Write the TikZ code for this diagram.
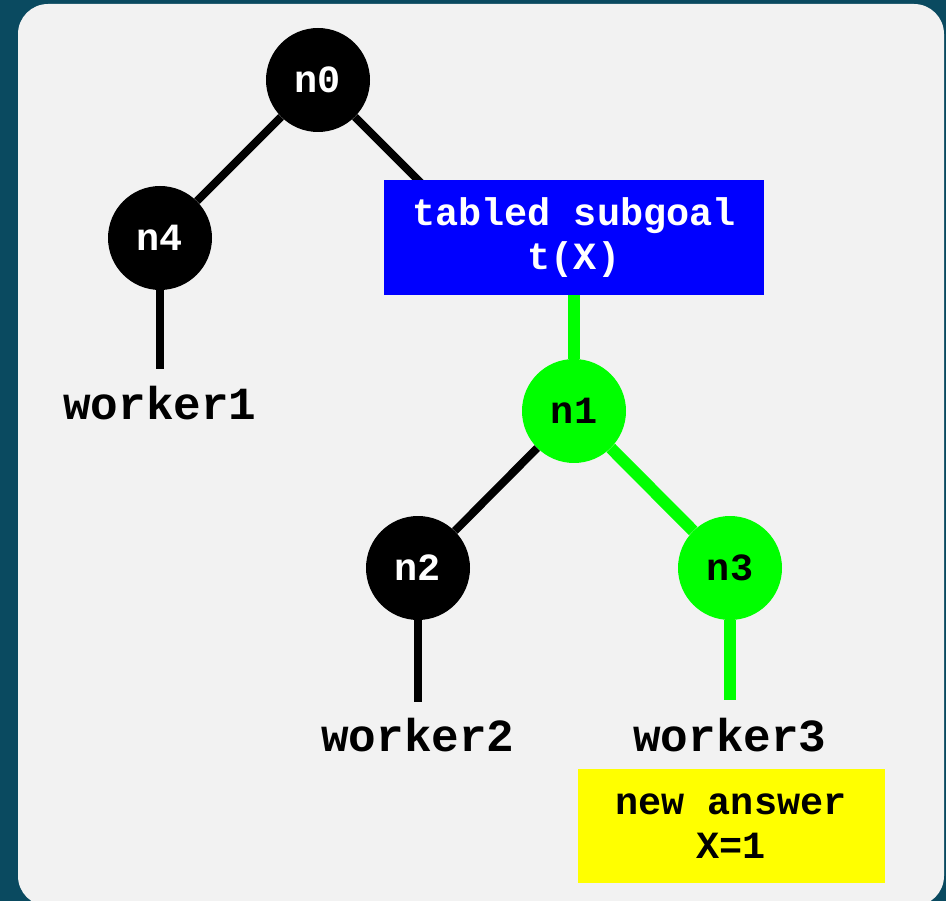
\documentclass[tikz,border=0pt]{standalone}
\usepackage{fontspec}
\newfontfamily\treefont{Liberation Mono}
\definecolor{slideteal}{RGB}{10,74,96}
\definecolor{panelgray}{RGB}{242,242,242}
\definecolor{hotgreen}{RGB}{0,255,0}
\definecolor{goalblue}{RGB}{0,0,255}
\definecolor{answeryellow}{RGB}{255,255,0}
\pgfdeclarelayer{background}
\pgfsetlayers{background,main}
\tikzset{
  vertex/.style={circle, minimum size=104pt, inner sep=0pt,
    font=\treefont\bfseries\fontsize{38.5}{44}\selectfont},
  notebox/.style={rectangle, inner sep=0pt, align=center,
    font=\treefont\bfseries\fontsize{38.5}{44}\selectfont},
  workerlabel/.style={inner sep=0pt, font=\treefont\bfseries\fontsize{46}{50}\selectfont},
  link/.style={line width=8pt},
  hotlink/.style={line width=12pt, draw=hotgreen},
}
\newcommand{\VertexB}[2][]{\node[vertex, fill=black, text=white, #1] (#2) {#2};}
\newcommand{\VertexG}[2][]{\node[vertex, fill=hotgreen, text=black, #1] (#2) {#2};}
\newcommand{\Link}[3][]{\draw[link, #1] (#2) -- (#3);}

\begin{document}
\begin{tikzpicture}[x=1pt, y=-1pt]
\useasboundingbox (0,0) rectangle (946,901);
	\begin{pgfonlayer}{background}
	\begin{scope}
	\clip (0,0) rectangle (946,901);
	\fill[slideteal] (0,0) rectangle (946,901);
	\fill[panelgray, rounded corners=30pt] (18,4) rectangle (944,906);
	\end{scope}
	\end{pgfonlayer}

	\VertexB[at={(318,80)}]{n0}
	\VertexB[at={(160,238)}]{n4}
	\VertexG[at={(574,411)}]{n1}
	\VertexB[at={(418,568)}]{n2}
	\VertexG[at={(730,568)}]{n3}

	\node[notebox, fill=goalblue, text=white, minimum width=380pt, minimum height=115pt]
		(goal) at (574,237.5) {tabled subgoal\\t(X)};
	\node[notebox, fill=answeryellow, text=black, minimum width=307pt, minimum height=114pt]
		(answer) at (731,826) {new answer\\X=1};

	\node[workerlabel] (worker1) at (160,403) {worker1};
	\node[workerlabel] (worker2) at (418,735) {worker2};
	\node[workerlabel] (worker3) at (730,735) {worker3};

	\coordinate (under) at (450,212);
	\coordinate (end1) at (160,369);
	\coordinate (end2) at (418,702);
	\coordinate (end3) at (730,700);

	\begin{pgfonlayer}{background}
	\Link{n0}{n4}
	\Link{n0}{under}
	\Link{n4}{end1}
	\Link[hotlink]{goal}{n1}
	\Link{n1}{n2}
	\Link[hotlink]{n1}{n3}
	\Link{n2}{end2}
	\Link[hotlink]{n3}{end3}
	\end{pgfonlayer}

\end{tikzpicture}
\end{document}
